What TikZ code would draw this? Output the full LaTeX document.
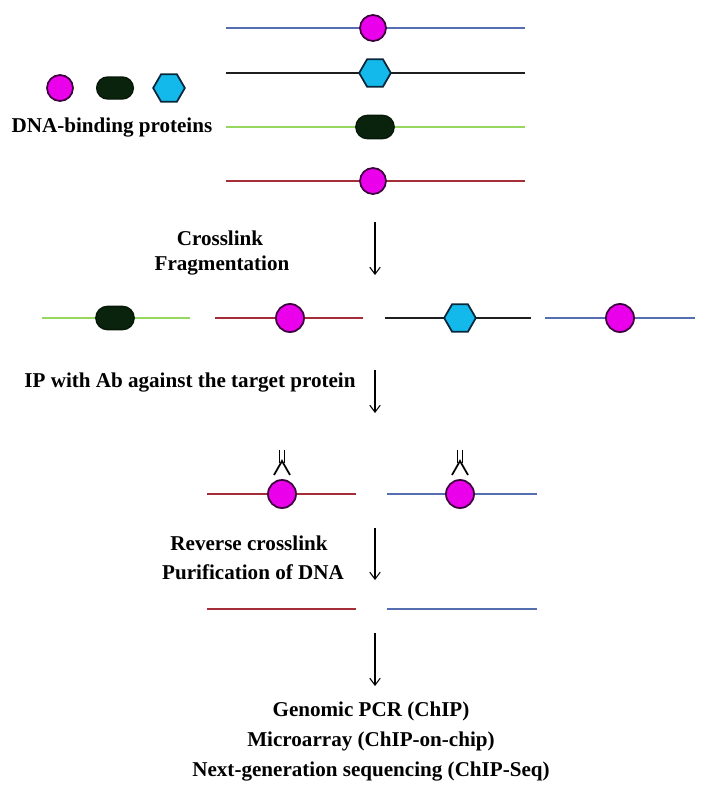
\documentclass[tikz,border=0pt]{standalone}
\usepackage{fontspec}
\setmainfont{Liberation Serif}
\usetikzlibrary{arrows.meta,shapes.geometric,shapes.misc}
\definecolor{dnablue}{RGB}{85,110,175}
\definecolor{dnagreen}{RGB}{150,215,95}
\definecolor{dnared}{RGB}{165,45,55}
\definecolor{dnablack}{RGB}{30,30,30}
\definecolor{pinkfill}{RGB}{235,0,235}
\definecolor{pinkedge}{RGB}{60,0,60}
\definecolor{ovalfill}{RGB}{10,35,12}
\definecolor{cyanfill}{RGB}{20,185,235}
\definecolor{cyanedge}{RGB}{10,40,60}
\tikzset{
  x=0.03cm, y=-0.03cm,
  strand/.style={line width=1.6pt},
  pinkprot/.style={circle, fill=pinkfill, draw=pinkedge, line width=1.5pt, minimum size=0.78cm, inner sep=0pt},
  ovalprot/.style={rounded rectangle, fill=ovalfill, draw=ovalfill!70!black, line width=1.2pt, minimum width=1.15cm, minimum height=0.7cm, inner sep=0pt},
  hexprot/.style={regular polygon, regular polygon sides=6, fill=cyanfill, draw=cyanedge, line width=1.5pt, minimum size=0.95cm, inner sep=0pt},
  lbl/.style={font=\fontsize{18}{22}\selectfont\bfseries, inner sep=0pt, align=center},
  steparrow/.style={line width=0.9pt, -{Straight Barb[length=6pt,width=9pt]}},
  ab/.style={line width=1.5pt, black}
}
\begin{document}
\begin{tikzpicture}
\useasboundingbox (0,0) rectangle (707,804);
% ---------- top strands ----------
\coordinate (t1a) at (226,28);  \coordinate (t1b) at (525,28);
\coordinate (t2a) at (226,73);  \coordinate (t2b) at (525,73);
\coordinate (t3a) at (226,127); \coordinate (t3b) at (525,127);
\coordinate (t4a) at (226,181); \coordinate (t4b) at (525,181);
\draw[strand, dnablue] (t1a) -- (t1b);
\draw[strand, dnablack] (t2a) -- (t2b);
\draw[strand, dnagreen] (t3a) -- (t3b);
\draw[strand, dnared] (t4a) -- (t4b);
\node[pinkprot] (tp1) at (373,28) {};
\node[hexprot] (th2) at (375,73) {};
\node[ovalprot] (to3) at (375,127) {};
\node[pinkprot] (tp4) at (373,181) {};
% ---------- legend ----------
\node[pinkprot] (lg1) at (60,88) {};
\node[ovalprot, minimum width=1.1cm, minimum height=0.66cm] (lg2) at (115,88) {};
\node[hexprot] (lg3) at (169,88) {};
\node[lbl] (lgt) at (112,128) {DNA-binding proteins};
% ---------- step 1 ----------
\coordinate (a1s) at (375,222); \coordinate (a1e) at (375,275);
\draw[steparrow] (a1s) -- (a1e);
\node[lbl] (s1a) at (220,238) {Crosslink};
\node[lbl] (s1b) at (222,266) {Fragmentation};
% ---------- fragments ----------
\coordinate (f1a) at (42,318);  \coordinate (f1b) at (190,318);
\coordinate (f2a) at (215,318); \coordinate (f2b) at (363,318);
\coordinate (f3a) at (385,318); \coordinate (f3b) at (531,318);
\coordinate (f4a) at (545,318); \coordinate (f4b) at (695,318);
\draw[strand, dnagreen] (f1a) -- (f1b);
\draw[strand, dnared] (f2a) -- (f2b);
\draw[strand, dnablack] (f3a) -- (f3b);
\draw[strand, dnablue] (f4a) -- (f4b);
\node[ovalprot] (fo1) at (115,318) {};
\node[pinkprot, minimum size=0.84cm] (fp2) at (290,318) {};
\node[hexprot] (fh3) at (460,318) {};
\node[pinkprot, minimum size=0.84cm] (fp4) at (620,318) {};
% ---------- step 2 ----------
\coordinate (a2s) at (375,370); \coordinate (a2e) at (375,413);
\draw[steparrow] (a2s) -- (a2e);
\node[lbl] (s2) at (190,383) {IP with Ab against the target protein};
% ---------- IP fragments ----------
\coordinate (i1a) at (207,494); \coordinate (i1b) at (356,494);
\coordinate (i2a) at (387,494); \coordinate (i2b) at (537,494);
\draw[strand, dnared] (i1a) -- (i1b);
\draw[strand, dnablue] (i2a) -- (i2b);
\node[pinkprot, minimum size=0.84cm] (ip1) at (282,494) {};
\node[pinkprot, minimum size=0.84cm] (ip2) at (460,494) {};
% antibodies
\foreach \c/\n in {282/abA, 460/abB}{
  \coordinate (\n) at (\c,461);
  \draw[ab] ({\c-2.5},450) -- ({\c-2.5},463);
  \draw[ab] ({\c+2.5},450) -- ({\c+2.5},463);
  \draw[ab, line join=miter] ({\c-8},475) -- (\n) -- ({\c+8},475);
}
% ---------- step 3 ----------
\coordinate (a3s) at (375,528); \coordinate (a3e) at (375,580);
\draw[steparrow] (a3s) -- (a3e);
\node[lbl] (s3a) at (249,543) {Reverse crosslink};
\node[lbl] (s3b) at (253,572) {Purification of DNA};
% ---------- purified DNA ----------
\coordinate (d1a) at (207,609); \coordinate (d1b) at (356,609);
\coordinate (d2a) at (387,609); \coordinate (d2b) at (537,609);
\draw[strand, dnared] (d1a) -- (d1b);
\draw[strand, dnablue] (d2a) -- (d2b);
% ---------- step 4 ----------
\coordinate (a4s) at (375,633); \coordinate (a4e) at (375,686);
\draw[steparrow] (a4s) -- (a4e);
\node[lbl] (r1) at (371,711) {Genomic PCR (ChIP)};
\node[lbl] (r2) at (371,741) {Microarray (ChIP-on-chip)};
\node[lbl] (r3) at (371,772) {Next-generation sequencing (ChIP-Seq)};
\end{tikzpicture}
\end{document}
